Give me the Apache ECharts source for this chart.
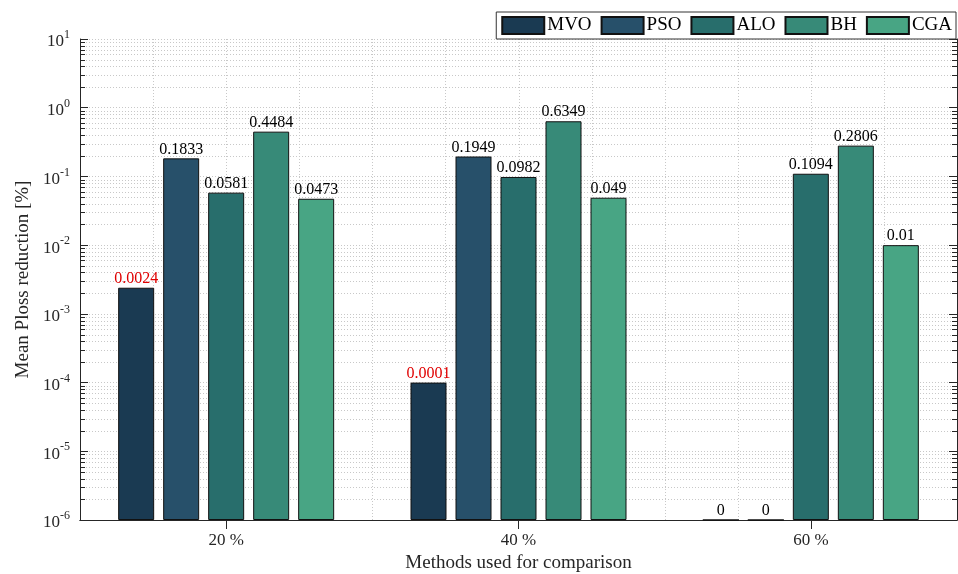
<!DOCTYPE html>
<html><head><meta charset="utf-8">
<script src="https://cdn.jsdelivr.net/npm/echarts@6/dist/echarts.min.js"></script>
<style>html,body{margin:0;padding:0;background:#fff}#c{width:958px;height:574px}</style>
</head><body><div id="c"></div>
<script>
var categories = ['20 %', '40 %', '60 %'];
var seriesNames = ['MVO', 'PSO', 'ALO', 'BH', 'CGA'];
var MVO = [0.0024, 0.0001, 0];
var PSO = [0.1833, 0.1949, 0];
var ALO = [0.0581, 0.0982, 0.1094];
var BH  = [0.4484, 0.6349, 0.2806];
var CGA = [0.0473, 0.049, 0.01];
var yTickExponents = [-6, -5, -4, -3, -2, -1, 0, 1];
var colors = ['#1a3a52', '#27506a', '#286e6c', '#378a78', '#48a584'];

var FONT = '"Liberation Serif", "Times New Roman", serif';
var values = [MVO, PSO, ALO, BH, CGA];
var EXP_MIN = yTickExponents[0], EXP_MAX = yTickExponents[yTickExponents.length - 1];
// log10 scale shifted so that axis start (10^EXP_MIN) is 0 -> bars grow from the bottom
function toAxis(v) { return v > 0 ? Math.log10(v) - EXP_MIN : 0; }

function makeBar(name, arr, i) {
  return {
    name: name, type: 'bar', z: 3,
    barWidth: 36, barGap: '25%',
    itemStyle: { color: colors[i], borderColor: '#111', borderWidth: 1 },
    label: {
      show: true, position: 'top', distance: 1,
      fontFamily: FONT, fontSize: 16,
      formatter: function (p) { return String(p.data.raw); }
    },
    data: arr.map(function (v) {
      return {
        value: toAxis(v), raw: v,
        label: { color: (i === 0 && v > 0) ? '#e00000' : '#000' }
      };
    })
  };
}

var series = values.map(function (arr, i) { return makeBar(seriesNames[i], arr, i); });

function decoRender(params, api, withGrid) {
  var cs = params.coordSys;
  var ch = [];
  var x0 = cs.x, x1 = cs.x + cs.width, y0 = cs.y, y1 = cs.y + cs.height;
  var dotted = { stroke: '#c8c8c8', lineWidth: 1, lineDash: [1, 2] };
  var tickS = { stroke: '#262626', lineWidth: 1 };
  for (var d = EXP_MIN; d < EXP_MAX; d++) {
    for (var m = 2; m <= 9; m++) {
      var y = Math.round(api.coord([0, toAxis(m * Math.pow(10, d))])[1]) + 0.5;
      if (withGrid) ch.push({ type: 'line', shape: { x1: x0, y1: y, x2: x1, y2: y }, style: dotted, silent: true });
      else {
        ch.push({ type: 'line', shape: { x1: x0, y1: y, x2: x0 + 5, y2: y }, style: tickS, silent: true });
        ch.push({ type: 'line', shape: { x1: x1 - 5, y1: y, x2: x1, y2: y }, style: tickS, silent: true });
      }
    }
  }
  if (withGrid) {
    var c0 = api.coord([0, 1])[0], c1 = api.coord([1, 1])[0];
    var bw = c1 - c0;
    for (var i = 0; i < categories.length; i++) {
      var c = api.coord([i, 1])[0];
      [-0.5, -0.25, 0, 0.25, 0.5].forEach(function (k) {
        var x = Math.round(c + k * bw) + 0.5;
        if (x > x0 + 2 && x < x1 - 2)
          ch.push({ type: 'line', shape: { x1: x, y1: y0, x2: x, y2: y1 }, style: dotted, silent: true });
      });
    }
  }
  return { type: 'group', children: ch };
}

series.unshift({
  type: 'custom', z: 1, silent: true, data: [[0, 1]],
  renderItem: function (p, api) { return decoRender(p, api, true); }
});
series.push({
  type: 'custom', z: 5, silent: true, data: [[0, 1]],
  renderItem: function (p, api) { return decoRender(p, api, false); }
});

var axisLine = { show: true, lineStyle: { color: '#262626', width: 1 } };

var option = {
  animation: false,
  backgroundColor: '#fff',
  textStyle: { fontFamily: FONT },
  legend: {
    data: seriesNames, top: 12, right: 2, icon: 'rect',
    itemWidth: 42, itemHeight: 17, itemGap: 9,
    padding: [4, 4, 4, 5],
    borderColor: '#333', borderWidth: 1, backgroundColor: '#fff',
    textStyle: { fontFamily: FONT, fontSize: 19, color: '#000', padding: [0, 0, 0, -2] }
  },
  grid: { left: 80, right: 1, top: 39, bottom: 54, containLabel: false, outerBoundsMode: 'none' },
  xAxis: [{
    type: 'category', data: categories,
    axisLine: axisLine,
    axisTick: { show: true, inside: true, alignWithLabel: true, length: 9, lineStyle: { color: '#262626' } },
    axisLabel: { fontFamily: FONT, fontSize: 17, color: '#262626', margin: 12 },
    splitLine: { show: false },
    name: 'Methods used for comparison', nameLocation: 'middle', nameGap: 34,
    nameTextStyle: { fontFamily: FONT, fontSize: 19, color: '#262626' }
  }, {
    type: 'category', data: categories, position: 'top',
    axisLine: axisLine,
    axisTick: { show: true, inside: true, alignWithLabel: true, length: 9, lineStyle: { color: '#262626' } },
    axisLabel: { show: false }, splitLine: { show: false }
  }],
  yAxis: [{
    type: 'value', min: 0, max: EXP_MAX - EXP_MIN, interval: 1,
    axisLine: axisLine,
    axisTick: { show: true, inside: true, length: 8, lineStyle: { color: '#262626' } },
    axisLabel: {
      margin: 10, color: '#262626',
      formatter: function (v) {
        return '{b|10}{e|' + yTickExponents[Math.round(v)] + '}';
      },
      rich: {
        b: { fontFamily: FONT, fontSize: 17, color: '#262626', padding: [6, 0, 0, 0] },
        e: { fontFamily: FONT, fontSize: 12, color: '#262626', padding: [0, 0, 8, 0] }
      }
    },
    splitLine: { show: true, lineStyle: { color: '#c8c8c8', type: [1, 2] } },
    name: 'Mean Ploss reduction [%]', nameLocation: 'middle', nameGap: 46,
    nameTextStyle: { fontFamily: FONT, fontSize: 19, color: '#262626' }
  }, {
    type: 'value', min: 0, max: EXP_MAX - EXP_MIN, interval: 1, position: 'right',
    axisLine: axisLine,
    axisTick: { show: true, inside: true, length: 8, lineStyle: { color: '#262626' } },
    axisLabel: { show: false }, splitLine: { show: false }
  }],
  series: series
};

var chart = echarts.init(document.getElementById('c'), null, { renderer: 'canvas' });
chart.setOption(option);
</script></body></html>
